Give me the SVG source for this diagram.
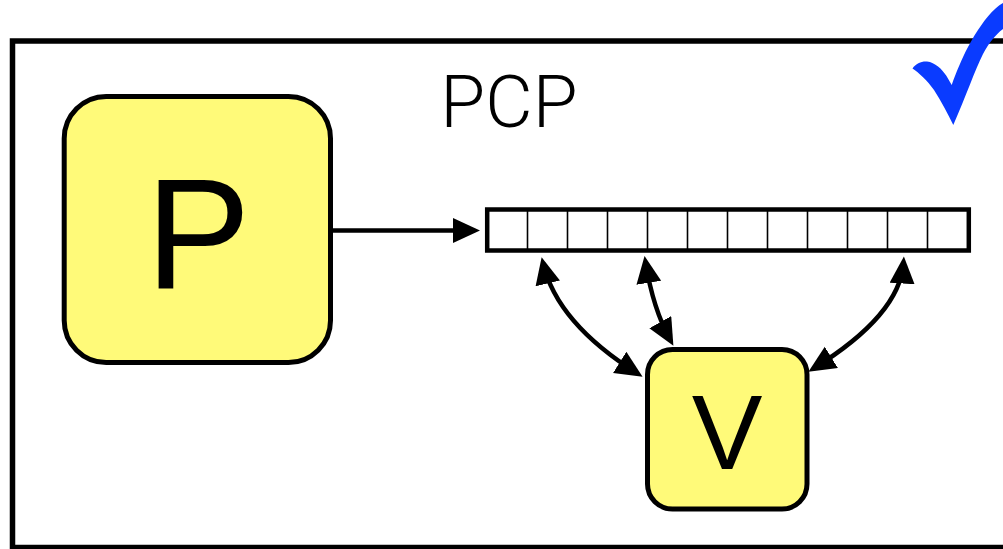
<svg xmlns="http://www.w3.org/2000/svg" width="1003" height="549" viewBox="0 0 1003 549">
  <defs>
    <style>
      .frame { fill: #ffffff; stroke: #000000; stroke-width: 5.5; }
      .node { fill: #FFFA79; stroke: #000000; stroke-width: 5; }
      .big { font-family: "Liberation Sans", Arial, sans-serif; fill: #000000; text-anchor: middle; }
      .title { font-family: Roboto, "Liberation Sans", sans-serif; font-weight: 300; fill: #000000; text-anchor: middle; }
      .cells { fill: #ffffff; stroke: #000000; stroke-width: 4.5; }
      .divider { stroke: #000000; stroke-width: 1.6; }
      .wire { fill: none; stroke: #000000; stroke-width: 4.5; }
    </style>
    <marker id="head" markerUnits="userSpaceOnUse" markerWidth="28" markerHeight="26" refX="21" refY="12.5" orient="auto-start-reverse" viewBox="0 0 28 26">
      <path d="M0,0 L27,12.5 L0,25 Z" fill="#000000"/>
    </marker>
    <filter id="soft" x="-5%" y="-5%" width="110%" height="110%">
      <feGaussianBlur stdDeviation="1.6"/>
    </filter>
  </defs>

  <!-- outer frame with faint shadow on its left side -->
  <line x1="8" y1="42" x2="8" y2="549" stroke="#9a9a9a" stroke-width="3" filter="url(#soft)"/>
  <rect class="frame" x="12.5" y="41" width="1000" height="506.5"/>

  <text class="title" x="509" y="127" font-size="73">PCP</text>

  <!-- process node -->
  <g id="node-p">
    <rect class="node" x="64.2" y="96.5" width="266.3" height="266" rx="42" ry="42"/>
    <text class="big" x="198" y="287.5" font-size="157">P</text>
  </g>

  <!-- shared cell array -->
  <g id="node-array">
    <rect class="cells" x="487.2" y="209.5" width="481.6" height="41"/>
    <g class="divider">
      <line x1="527.5" y1="209.5" x2="527.5" y2="250.5"/>
      <line x1="567.5" y1="209.5" x2="567.5" y2="250.5"/>
      <line x1="607.5" y1="209.5" x2="607.5" y2="250.5"/>
      <line x1="647.5" y1="209.5" x2="647.5" y2="250.5"/>
      <line x1="687.5" y1="209.5" x2="687.5" y2="250.5"/>
      <line x1="727.5" y1="209.5" x2="727.5" y2="250.5"/>
      <line x1="767.5" y1="209.5" x2="767.5" y2="250.5"/>
      <line x1="807.5" y1="209.5" x2="807.5" y2="250.5"/>
      <line x1="847.5" y1="209.5" x2="847.5" y2="250.5"/>
      <line x1="887.5" y1="209.5" x2="887.5" y2="250.5"/>
      <line x1="927.5" y1="209.5" x2="927.5" y2="250.5"/>
    </g>
  </g>

  <!-- verifier node -->
  <g id="node-v">
    <rect class="node" x="647.5" y="349.5" width="159.5" height="159.5" rx="25" ry="25"/>
    <text class="big" x="727" y="469" font-size="106">V</text>
  </g>

  <!-- connectors -->
  <g id="connectors">
    <path class="wire" d="M333,230.5 L474,230.5" marker-end="url(#head)"/>
    <path class="wire" d="M543,263 Q557,323 637.5,373.5" marker-start="url(#head)" marker-end="url(#head)"/>
    <path class="wire" d="M645.5,262 Q653,309 670.5,340.5" marker-start="url(#head)" marker-end="url(#head)"/>
    <path class="wire" d="M903.5,262.5 Q900,315 813.5,368.5" marker-start="url(#head)" marker-end="url(#head)"/>
  </g>

  <!-- check mark -->
  <path d="M912.5,68.5 C916,63 922,61 927,61.5 C935,62.5 942,69 946.5,76 L951.7,85 C956,73 962,58 968,47 C976,32 986,17 995,9 C998,6 1001,4 1003,3 L1003,29 C995,35 989,43 983,54 C975,70 966,96 953.3,125 C948,114 941,101 934,90 C927,80 919,73 912.5,68.5 Z" fill="#0A3BFF"/>
</svg>
